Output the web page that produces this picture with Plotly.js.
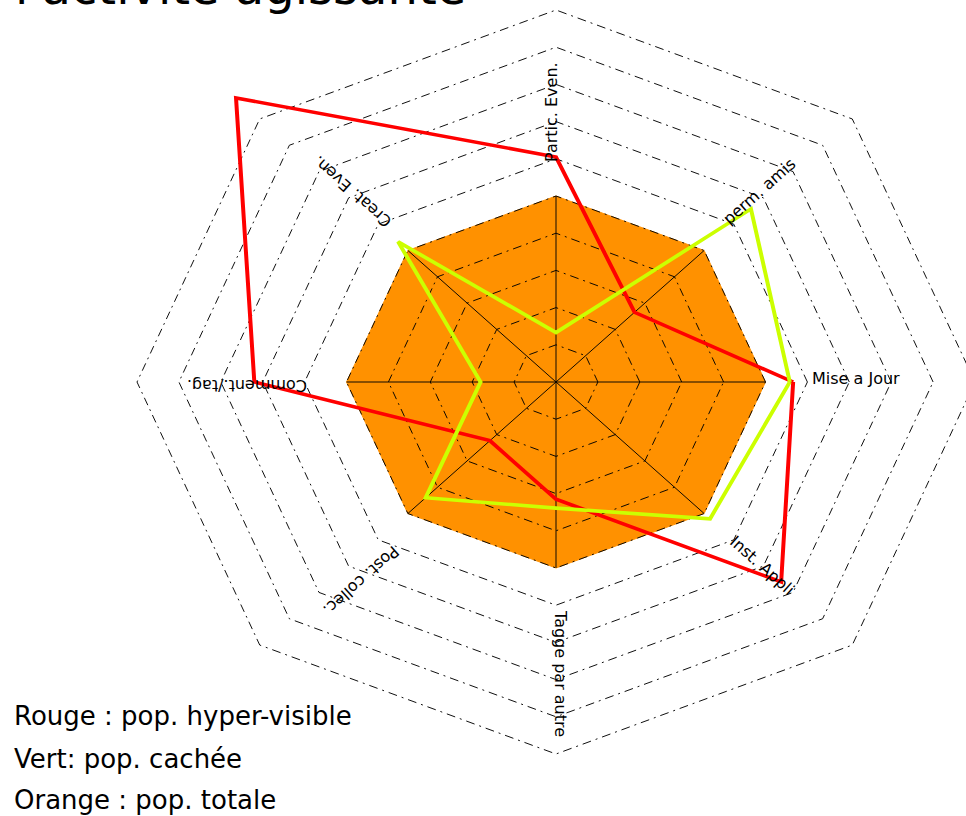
<!DOCTYPE html>
<html>
<head>
<meta charset="utf-8">
<script src="https://cdn.plot.ly/plotly-3.0.1.min.js"></script>
<style>
html,body{margin:0;padding:0;overflow:hidden;background:#fff;width:966px;height:816px;}
#chart{position:absolute;left:0;top:-100px;width:1100px;height:1000px;}
</style>
</head>
<body>
<div id="chart"></div>
<script>
// ---- data ----
const categories = ['Mise a Jour','perm. amis','Partic. Even.','Creat. Even.','Comment./tag.','Post. collec.','Tagge par autre','Inst. Appli'];
const rougeHyperVisible = [5.66, 2.65, 6.05, 10.8, 7.2, 2.23, 3.15, 7.6];
const vertCachee        = [5.58, 6.58, 1.33, 5.33, 1.8, 4.4, 3.39, 5.2];
const orangeTotale      = [5, 5, 5, 5, 5, 5, 5, 5];
const ringLevels        = [1, 2, 3, 4, 5, 6, 7, 8, 9, 10];
const legendLines       = ['Rouge : pop. hyper-visible', 'Vert: pop. cachée', 'Orange : pop. totale'];
const titleText         = "l'activité agissante";

// ---- layout helpers (page geometry, not data) ----
const DIV_W = 1100, DIV_H = 1000, DIV_TOP = -100;
const CX = 556, CY = 382;          // centre of the web, window px
const PX_PER_UNIT = 41.9;          // horizontal scale
const Y_SQUASH = 37.2 / 41.9;      // vertical compression of the original plot
const RMAX = 11;
const px = x => x / DIV_W;
const py = y => (DIV_H - (y - DIV_TOP)) / DIV_H;

const closeLoop = a => a.concat([a[0]]);
const thetaLoop = closeLoop(categories);

const traces = [];
// orange : total population
traces.push({
  type: 'scatterpolar', r: closeLoop(orangeTotale), theta: thetaLoop,
  mode: 'lines', fill: 'toself', fillcolor: '#ff9100',
  line: {color: '#ff9100', width: 1}, hoverinfo: 'skip', showlegend: false
});
// dash-dot rings
ringLevels.forEach(k => {
  traces.push({
    type: 'scatterpolar', r: categories.map(() => k).concat([k]), theta: thetaLoop,
    mode: 'lines', line: {color: '#000', width: 1, dash: '9px,5px,2px,5px'},
    hoverinfo: 'skip', showlegend: false
  });
});
// spokes (centre to total value)
const spokeR = [], spokeT = [];
categories.forEach((c, i) => { spokeR.push(0, orangeTotale[i], null); spokeT.push(c, c, c); });
traces.push({
  type: 'scatterpolar', r: spokeR, theta: spokeT, mode: 'lines',
  line: {color: '#000', width: 1}, connectgaps: false, hoverinfo: 'skip', showlegend: false
});
// red : hyper-visible
traces.push({
  type: 'scatterpolar', r: closeLoop(rougeHyperVisible), theta: thetaLoop, mode: 'lines',
  line: {color: '#ff0000', width: 4}, name: 'pop. hyper-visible', showlegend: false
});
// green : hidden
traces.push({
  type: 'scatterpolar', r: closeLoop(vertCachee), theta: thetaLoop, mode: 'lines',
  line: {color: '#ccff00', width: 4}, name: 'pop. cachée', showlegend: false
});

// axis labels (window px centre + text angle)
const labelPlacement = [
  {x: 856, y: 378, a: 0},
  {x: 759, y: 191, a: -41.6},
  {x: 552, y: 112, a: -90},
  {x: 352, y: 192, a: -138.4},
  {x: 247, y: 386, a: 180},
  {x: 361, y: 580, a: 138.4},
  {x: 561, y: 673, a: 90},
  {x: 762, y: 566, a: 41.6}
];
const labelFont = {family: 'DejaVu Sans, sans-serif', size: 16, color: '#000'};
const annotations = categories.map((c, i) => ({
  xref: 'paper', yref: 'paper', x: px(labelPlacement[i].x), y: py(labelPlacement[i].y),
  xanchor: 'center', yanchor: 'middle', text: c, textangle: labelPlacement[i].a,
  showarrow: false, font: labelFont
}));
const legendY = [716, 759, 800];
legendLines.forEach((t, i) => annotations.push({
  xref: 'paper', yref: 'paper', x: px(12), y: py(legendY[i]), xanchor: 'left', yanchor: 'middle',
  text: t, showarrow: false, font: {family: 'DejaVu Sans, sans-serif', size: 26, color: '#000'}
}));
annotations.push({
  xref: 'paper', yref: 'paper', x: px(13), y: py(17), xanchor: 'left', yanchor: 'bottom',
  text: titleText, showarrow: false,
  font: {family: 'DejaVu Sans, sans-serif', size: 48, color: '#000'}
});

const R_PX = RMAX * PX_PER_UNIT;
const layout = {
  width: DIV_W, height: DIV_H,
  margin: {l: 0, r: 0, t: 0, b: 0},
  paper_bgcolor: 'rgba(0,0,0,0)', plot_bgcolor: 'rgba(0,0,0,0)',
  showlegend: false,
  polar: {
    domain: {x: [px(CX - R_PX), px(CX + R_PX)],
             y: [(DIV_H - (CY - DIV_TOP) - R_PX) / DIV_H, (DIV_H - (CY - DIV_TOP) + R_PX) / DIV_H]},
    gridshape: 'linear',
    bgcolor: 'rgba(0,0,0,0)',
    radialaxis: {range: [0, RMAX], showgrid: false, showline: false, showticklabels: false, ticks: ''},
    angularaxis: {type: 'category', categoryarray: categories, rotation: 0, direction: 'counterclockwise',
                  showgrid: false, showline: false, showticklabels: false, ticks: ''}
  },
  annotations: annotations
};

Plotly.newPlot('chart', traces, layout, {staticPlot: true, displayModeBar: false}).then(gd => {
  const svg = gd.querySelector('svg.main-svg');
  svg.style.transformOrigin = '0px ' + (CY - DIV_TOP) + 'px';
  svg.style.transform = 'scaleY(' + Y_SQUASH + ')';
});
</script>
</body>
</html>
